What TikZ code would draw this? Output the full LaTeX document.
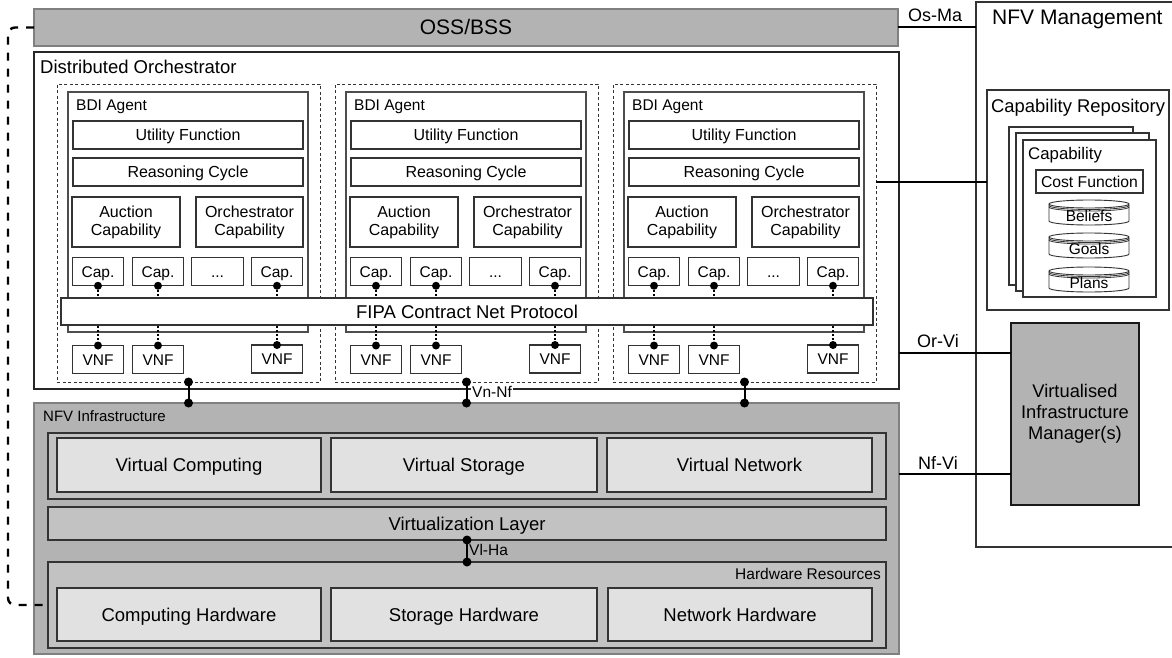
\documentclass[tikz,border=0pt]{standalone}
\usepackage{fontspec}
\setmainfont{Liberation Sans}
\usetikzlibrary{calc}
\definecolor{infra}{HTML}{B3B3B3}
\definecolor{cont}{HTML}{C2C2C2}
\definecolor{light}{HTML}{E1E1E1}
\definecolor{edge}{HTML}{333333}
\definecolor{bdiedge}{HTML}{4D4D4D}
\definecolor{ossedge}{HTML}{808080}
\newcommand{\fsz}[2]{\fontsize{#1}{#2}\selectfont}
\newcommand{\cylpath}[1]{%
  \draw[line width=0.9pt, draw=edge, fill=white] ([yshift=-4pt]#1.north west) -- ([yshift=4pt]#1.south west)
    arc[start angle=180,end angle=360,x radius=40pt,y radius=4pt]
    -- ([yshift=-4pt]#1.north east)
    arc[start angle=0,end angle=180,x radius=40pt,y radius=4pt]
    arc[start angle=180,end angle=360,x radius=40pt,y radius=4pt];
  \draw[line width=0.8pt, draw=edge] ([yshift=-5.5pt]#1.north west) arc[start angle=180,end angle=360,x radius=40pt,y radius=4pt];
  \draw[line width=0.8pt, draw=edge] ([yshift=-7pt]#1.north west) arc[start angle=180,end angle=360,x radius=40pt,y radius=4pt];
}
\begin{document}
\begin{tikzpicture}[x=1pt,y=-1pt,
  box/.style={draw=edge, line width=1.1pt, fill=white, inner sep=0pt, outer sep=0pt, font=\fsz{16}{18}, align=center},
  one16/.style={text height=15pt, text depth=3.5pt},
  one185/.style={font=\fsz{18.5}{20}, text height=17.2pt, text depth=4pt},
  lbox/.style={box, fill=light, one185},
  contbox/.style={box, fill=cont},
  grpbox/.style={draw=edge, line width=0.9pt, dash pattern=on 3pt off 2.5pt, inner sep=0pt, outer sep=0pt},
  bdibox/.style={draw=bdiedge, line width=1.3pt, fill=white, inner sep=0pt, outer sep=0pt},
  capbox/.style={box, minimum width=51.5, minimum height=28.5, font=\fsz{15.5}{17}, text height=14.6pt, text depth=3.5pt},
  cylbox/.style={inner sep=0pt, outer sep=0pt, minimum width=80, minimum height=25},
  lbl/.style={inner sep=0pt, anchor=base west},
  conn/.style={line width=2pt, draw=black},
  dotline/.style={line width=2pt, dash pattern=on 2pt off 2pt},
]
\useasboundingbox (0,0) rectangle (1172,658);

% NFV Management side
\node[box, minimum width=210, minimum height=545, anchor=north west] (nfvm) at (976,2) {};
\node[lbl, font=\fsz{21}{23}] (nfvmt) at (992,25) {NFV Management};
\node[box, minimum width=182, minimum height=220] (cr) at (1078,200) {};
\node[lbl, font=\fsz{18.4}{20}] (crt) at (991,113) {Capability Repository};
\node[box, minimum width=124, minimum height=158, anchor=north west] (capc) at (1009,127) {};
\node[box, minimum width=133, minimum height=158, anchor=north west] (capb) at (1016,133) {};
\node[box, minimum width=133, minimum height=157, anchor=north west] (capa) at (1023,140) {};
\node[lbl, font=\fsz{16.8}{18}] (capt) at (1028,159) {Capability};
\node[box, minimum width=107, minimum height=23, font=\fsz{15.7}{17}, text height=14.7pt, text depth=3.5pt] (cf) at (1089.5,181.5) {Cost Function};
\node[cylbox] (bel) at (1089,212.5) {};
\cylpath{bel}
\node[font=\fsz{15.5}{17}, inner sep=0pt, text height=14.6pt, text depth=3.5pt] (belt) at ([yshift=-3pt]bel.center) {Beliefs};
\node[cylbox] (goa) at (1089,245.5) {};
\cylpath{goa}
\node[font=\fsz{15.5}{17}, inner sep=0pt, text height=14.6pt, text depth=3.5pt] (goat) at ([yshift=-3pt]goa.center) {Goals};
\node[cylbox] (pla) at (1089,279.5) {};
\cylpath{pla}
\node[font=\fsz{15.5}{17}, inner sep=0pt, text height=14.6pt, text depth=3.5pt] (plat) at ([yshift=-3pt]pla.center) {Plans};
\node[box, fill=infra, draw=black!90, line width=1.3pt, minimum width=128, minimum height=182, font=\fsz{18.3}{21}] (vim) at (1075,414) {Virtualised\\Infrastructure\\Manager(s)};

% OSS/BSS and orchestrator
\node[box, fill=infra, draw=ossedge, minimum width=864, minimum height=37, font=\fsz{21}{23}, text height=20pt, text depth=5pt] (oss) at (466,27.5) {OSS/BSS};
\node[box, draw=black!85, minimum width=865, minimum height=337] (do) at (466.5,220.5) {};
\node[lbl, font=\fsz{18.5}{20}] (dot) at (40,74) {Distributed Orchestrator};

\foreach \i/\dx in {1/0,2/278,3/556}{
\begin{scope}[xshift=\dx]
  \node[grpbox, minimum width=263, minimum height=298] (grp\i) at (188.5,233) {};
  \node[bdibox, minimum width=240, minimum height=240] (bdi\i) at (188,212) {};
  \node[lbl, font=\fsz{15.5}{17}] (bdil\i) at (76,110.5) {BDI Agent};
  \node[box, one16, minimum width=230, minimum height=28] (uf\i) at (188,135) {Utility Function};
  \node[box, one16, minimum width=230, minimum height=28] (rc\i) at (188,172) {Reasoning Cycle};
  \node[box, minimum width=108, minimum height=50] (auc\i) at (126,222) {Auction\\Capability};
  \node[box, minimum width=107, minimum height=50] (orc\i) at (249.5,222) {Orchestrator\\Capability};
  \node[capbox] (ca\i) at (98,271.5) {Cap.};
  \node[capbox] (cb\i) at (158,271.5) {Cap.};
  \node[capbox] (cc\i) at (217.5,271.5) {...};
  \node[capbox] (cd\i) at (277,271.5) {Cap.};
  \node[capbox, minimum height=28] (va\i) at (98,359.5) {VNF};
  \node[capbox, minimum height=28] (vb\i) at (158,359.5) {VNF};
  \node[capbox, minimum height=28] (vc\i) at (277,359) {VNF};
  \draw[dotline] (ca\i.south) -- (va\i.north);
  \draw[dotline] (cb\i.south) -- (vb\i.north);
  \draw[dotline] (cd\i.south) -- (vc\i.north);
  \fill (ca\i.south) circle[radius=4pt];
  \fill (cb\i.south) circle[radius=4pt];
  \fill (cd\i.south) circle[radius=4pt];
  \fill (va\i.north) circle[radius=4pt];
  \fill (vb\i.north) circle[radius=4pt];
  \fill (vc\i.north) circle[radius=4pt];
\end{scope}
}
\node[box, one185, minimum width=812, minimum height=27] (fipa) at (467,311.5) {FIPA Contract Net Protocol};

% NFV Infrastructure
\node[box, fill=infra, draw=ossedge, minimum width=865, minimum height=251] (infra) at (466.5,528.5) {};
\node[lbl, font=\fsz{15}{17}] (infrat) at (43,421.5) {NFV Infrastructure};
\node[contbox, minimum width=838, minimum height=66] (virt) at (467,466) {};
\node[lbox, minimum width=264, minimum height=54] (vcomp) at (189,465) {Virtual Computing};
\node[lbox, minimum width=266, minimum height=54] (vstor) at (464,465) {Virtual Storage};
\node[lbox, minimum width=265, minimum height=54] (vnet) at (739.5,465) {Virtual Network};
\node[contbox, one185, minimum width=838, minimum height=33] (vl) at (467,523.5) {Virtualization Layer};
\node[contbox, minimum width=838, minimum height=86] (hw) at (467,605) {};
\node[lbl, anchor=base east, font=\fsz{15.5}{17}] (hwt) at (881,579) {Hardware Resources};
\node[lbox, minimum width=264, minimum height=53] (hcomp) at (189,614.5) {Computing Hardware};
\node[lbox, minimum width=266, minimum height=53] (hstor) at (464,614.5) {Storage Hardware};
\node[lbox, minimum width=264, minimum height=53] (hnet) at (740,614.5) {Network Hardware};

% connectors
\draw[conn] (oss.east) -- (oss.east -| nfvm.west);
\coordinate (crin) at (987,182);
\draw[conn] (grp3.east |- crin) -- (cr.west |- crin);
\coordinate (orvi) at (1011,353);
\draw[conn] (do.east |- orvi) -- (vim.west |- orvi);
\coordinate (nfvi) at (1011,474);
\draw[conn] (infra.east |- nfvi) -- (vim.west |- nfvi);
\node[lbl, font=\fsz{18}{20}] (osma) at (908,21.7) {Os-Ma};
\node[lbl, font=\fsz{18}{20}] (orvil) at (917,347.5) {Or-Vi};
\node[lbl, font=\fsz{18}{20}] (nfvil) at (918,469) {Nf-Vi};

\foreach \i in {1,2,3}{
  \draw[conn] (grp\i.south) -- (grp\i.south |- infra.north);
  \fill (grp\i.south) circle[radius=4.5pt];
  \fill (grp\i.south |- infra.north) circle[radius=4.5pt];
}
\node[lbl, fill=white, inner sep=1pt, font=\fsz{15.5}{17}] (vnnf) at (471,397) {Vn-Nf};
\draw[conn] (vl.south) -- (hw.north);
\fill (vl.south) circle[radius=4.5pt];
\fill (hw.north) circle[radius=4.5pt];
\node[lbl, font=\fsz{15.5}{17}] (vlha) at (469,555) {Vl-Ha};

\coordinate (lbend) at (8,605);
\draw[line width=2.4pt, dash pattern=on 8pt off 8pt, rounded corners=7pt] (oss.west) -| (lbend) -- (hw.west);
\end{tikzpicture}
\end{document}
